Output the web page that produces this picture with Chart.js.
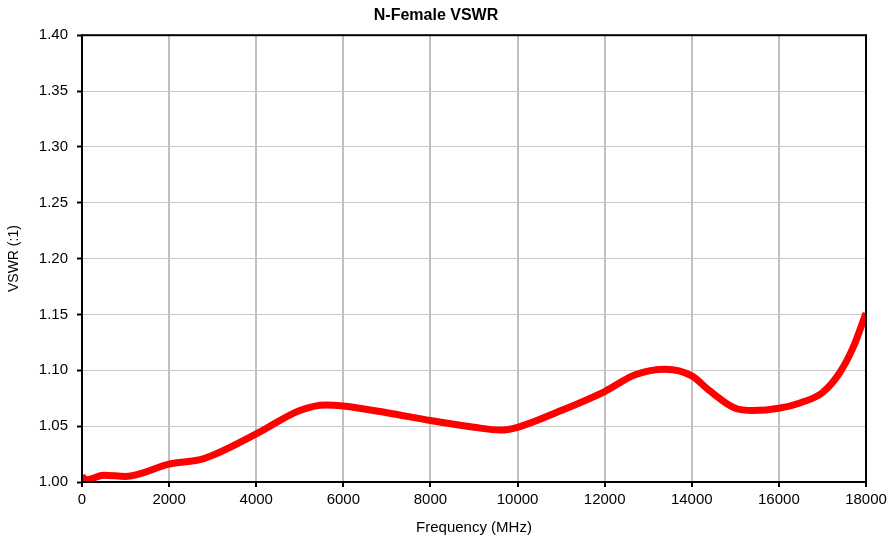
<!DOCTYPE html>
<html>
<head>
<meta charset="utf-8">
<script src="https://cdn.jsdelivr.net/npm/chart.js@4/dist/chart.umd.min.js"></script>
<style>
html,body{margin:0;padding:0;background:#fff;}
#wrap{width:892px;height:540px;}
</style>
</head>
<body>
<div id="wrap"><canvas id="vswrChart" width="892" height="540"></canvas></div>
<script>
// data
const freq = [0, 100, 500, 1000, 2000, 2800, 4000, 5000, 5600, 6000, 7000, 8000, 9000, 9600, 10000, 11000, 12000, 12700, 13400, 14000, 14400, 15000, 15400, 16000, 16500, 17000, 17400, 17700, 18000];
const vswr = [1.005, 1.002, 1.006, 1.005, 1.016, 1.021, 1.043, 1.064, 1.069, 1.068, 1.062, 1.055, 1.049, 1.0465, 1.049, 1.064, 1.081, 1.096, 1.101, 1.095, 1.082, 1.066, 1.064, 1.066, 1.071, 1.080, 1.098, 1.120, 1.151];
const xTicks = [0, 2000, 4000, 6000, 8000, 10000, 12000, 14000, 16000, 18000];
const yTicks = [1.00, 1.05, 1.10, 1.15, 1.20, 1.25, 1.30, 1.35, 1.40];

const FONT = "'Liberation Sans', Arial, sans-serif";

// box around the plot area
const frame = {
  id: "frame",
  afterDatasetsDraw(chart){
    const a = chart.chartArea, ctx = chart.ctx;
    ctx.save();
    ctx.strokeStyle = "#000";
    ctx.lineWidth = 2;
    ctx.strokeRect(a.left, a.top, a.right - a.left, a.bottom - a.top);
    ctx.restore();
  }
};

const ctx = document.getElementById("vswrChart");

new Chart(ctx, {
  type: "line",
  data: {
    datasets: [{
      label: "VSWR",
      data: freq.map((f, i) => ({x: f, y: vswr[i]})),
      borderColor: "#ff0000",
      borderWidth: 7,
      pointRadius: 0,
      cubicInterpolationMode: "monotone",
      fill: false
    }]
  },
  options: {
    responsive: false,
    animation: false,
    layout: {padding: {left: 6, right: 26, top: 0, bottom: 3}},
    plugins: {
      legend: {display: false},
      tooltip: {enabled: false},
      title: {
        display: true,
        text: "N-Female VSWR",
        color: "#000",
        font: {family: FONT, size: 16, weight: "bold"},
        padding: {top: 6, bottom: 10}
      }
    },
    scales: {
      x: {
        type: "linear",
        min: 0,
        max: 18000,
        afterBuildTicks: s => { s.ticks = xTicks.map(v => ({value: v})); },
        ticks: {color: "#000", font: {family: FONT, size: 15}, padding: 4, callback: v => String(v)},
        grid: {color: "#c0c0c0", lineWidth: 2, tickColor: "#000", tickLength: 5, tickWidth: 2},
        border: {display: false},
        title: {display: true, text: "Frequency (MHz)", color: "#000", font: {family: FONT, size: 15}, padding: {top: 6, bottom: 0}}
      },
      y: {
        min: 1,
        max: 1.4,
        afterBuildTicks: s => { s.ticks = yTicks.map(v => ({value: v})); },
        ticks: {color: "#000", font: {family: FONT, size: 15}, padding: 9, callback: v => v.toFixed(2)},
        grid: {color: "#c8c8c8", lineWidth: 1, tickColor: "#000", tickLength: 5, tickWidth: 2},
        border: {display: false},
        title: {display: true, text: "VSWR (:1)", color: "#000", font: {family: FONT, size: 14}, padding: {top: 0, bottom: 7}}
      }
    }
  },
  plugins: [frame]
});
</script>
</body>
</html>
